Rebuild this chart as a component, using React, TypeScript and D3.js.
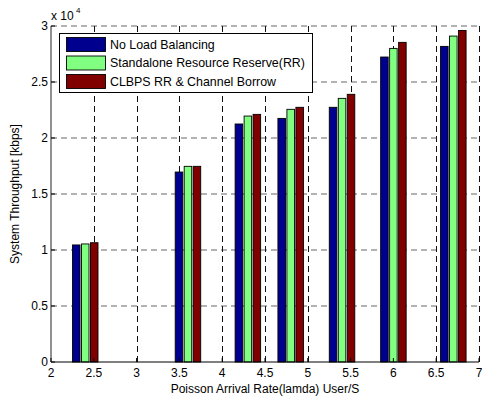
import React from 'react';
import * as d3 from 'd3';

// arrival rates (lamda, user/s) where each bar group sits
const rates = [2.4, 3.6, 4.3, 4.8, 5.4, 6.0, 6.7];

// throughput in kbps
const noLoadBalancing = [10450, 16960, 21250, 21750, 22740, 27230, 28180];
const standaloneRR = [10540, 17470, 21960, 22560, 23540, 28000, 29100];
const clbpsBorrow = [10650, 17470, 22110, 22740, 23900, 28540, 29600];

const seriesNames = [
    'No Load Balancing',
    'Standalone Resource Reserve(RR)',
    'CLBPS RR & Channel Borrow',
];
const seriesColors = ['#00008f', '#80ff80', '#800000'];

const xTicks = [2, 2.5, 3, 3.5, 4, 4.5, 5, 5.5, 6, 6.5, 7];
const yTicks = [0, 5000, 10000, 15000, 20000, 25000, 30000];

const W = 482;
const H = 398;
const margin = { top: 26, right: 3, bottom: 36, left: 51 };

const FONT = '"Liberation Sans", Arial, Helvetica, sans-serif';

export default function App() {
    const x = d3.scaleLinear()
        .domain([2, 7])
        .range([margin.left, W - margin.right]);
    const y = d3.scaleLinear()
        .domain([0, 30000])
        .range([H - margin.bottom, margin.top]);

    const series = [noLoadBalancing, standaloneRR, clbpsBorrow];
    const slot = 0.105; // spacing between bars in a group (data units)
    const barW = x(2 + 0.088) - x(2);

    const left = x(2);
    const right = x(7);
    const top = y(30000);
    const bottom = y(0);

    return (
        <svg
            width={W}
            height={H}
            style={{ position: 'absolute', left: 0, top: 0, display: 'block', background: '#fff' }}
            fontFamily={FONT}
        >
            {/* horizontal grid */}
            {yTicks.filter(t => t > 0).map(t => (
                <line key={'hg' + t} x1={left} x2={right} y1={y(t)} y2={y(t)}
                    stroke="#666" strokeDasharray="6,4" />
            ))}
            {/* vertical grid */}
            {xTicks.filter(t => t > 2).map(t => (
                <line key={'vg' + t} x1={Math.round(x(t)) + 0.5} x2={Math.round(x(t)) + 0.5}
                    y1={top} y2={bottom} stroke="#111" strokeDasharray="6,4" />
            ))}

            {/* bars */}
            {series.map((vals, s) => (
                <g key={'s' + s}>
                    {vals.map((v, i) => {
                        const cx = x(rates[i] + (s - 1) * slot);
                        return (
                            <rect key={i}
                                x={cx - barW / 2}
                                y={y(v)}
                                width={barW}
                                height={bottom - y(v)}
                                fill={seriesColors[s]}
                                stroke="#000"
                                strokeWidth={0.9}
                            />
                        );
                    })}
                </g>
            ))}

            {/* axes */}
            <line x1={left} x2={left} y1={top} y2={bottom} stroke="#222" />
            <line x1={left} x2={right} y1={bottom} y2={bottom} stroke="#000" />
            {yTicks.map(t => (
                <g key={'yt' + t}>
                    <line x1={left} x2={left + 4} y1={y(t)} y2={y(t)} stroke="#000" />
                    <text x={left - 3} y={y(t)} dy="0.35em" textAnchor="end" fontSize={12}>
                        {t / 10000}
                    </text>
                </g>
            ))}
            {xTicks.map(t => (
                <g key={'xt' + t}>
                    <line x1={x(t)} x2={x(t)} y1={bottom} y2={bottom - 4} stroke="#000" />
                    <text x={x(t)} y={bottom + 15} textAnchor="middle" fontSize={12}>
                        {t}
                    </text>
                </g>
            ))}

            {/* exponent */}
            <text x={left} y={20} fontSize={12}>x 10</text>
            <text x={left + 25} y={13} fontSize={8}>4</text>

            {/* axis labels */}
            <text x={(left + right) / 2} y={393} textAnchor="middle" fontSize={12}>
                Poisson Arrival Rate(lamda) User/S
            </text>
            <text
                transform={`translate(19,${(top + bottom) / 2}) rotate(-90)`}
                textAnchor="middle"
                fontSize={12}
            >
                System Throughput [kbps]
            </text>

            {/* legend */}
            <g>
                <rect x={59.5} y={33.5} width={253} height={59} fill="#fff" stroke="#000" />
                {seriesNames.map((name, i) => {
                    const rowY = 44.5 + i * 18.5;
                    return (
                        <g key={'lg' + i}>
                            <rect x={66.5} y={rowY - 7} width={39} height={14}
                                fill={seriesColors[i]} stroke="#000" strokeWidth={0.9} />
                            <text x={110} y={rowY} dy="0.35em" fontSize={12.4}>{name}</text>
                        </g>
                    );
                })}
            </g>
        </svg>
    );
}
